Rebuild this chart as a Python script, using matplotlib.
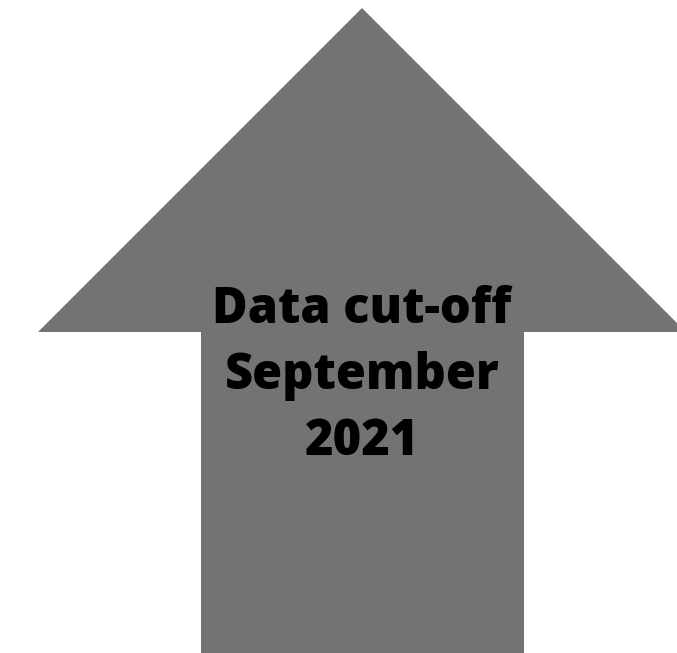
import matplotlib
matplotlib.use("Agg")
from matplotlib import pyplot as plt
from matplotlib.patches import Polygon

# label lines
label_lines = ["Data cut-off", "September", "2021"]
arrow_color = "#737373"

W, H = 677, 653
fig = plt.figure(figsize=(W / 100, H / 100), dpi=100)
ax = fig.add_axes([0, 0, 1, 1])
ax.set_xlim(0, W)
ax.set_ylim(H, 0)
ax.axis("off")

# up arrow: head plus shaft
tip = (362, 8)
head_y = 332
head_half = 324
shaft_l, shaft_r = 201, 524
pts = [tip, (tip[0] + head_half, head_y), (shaft_r, head_y), (shaft_r, H + 5),
       (shaft_l, H + 5), (shaft_l, head_y), (tip[0] - head_half, head_y)]
ax.add_patch(Polygon(pts, closed=True, facecolor=arrow_color, edgecolor="none"))

ax.text(362, 376, "\n".join(label_lines), ha="center", va="center",
        fontsize=35, fontweight="heavy", family="Open Sans", color="black",
        linespacing=1.41)

fig.savefig("out.png", dpi=100)
